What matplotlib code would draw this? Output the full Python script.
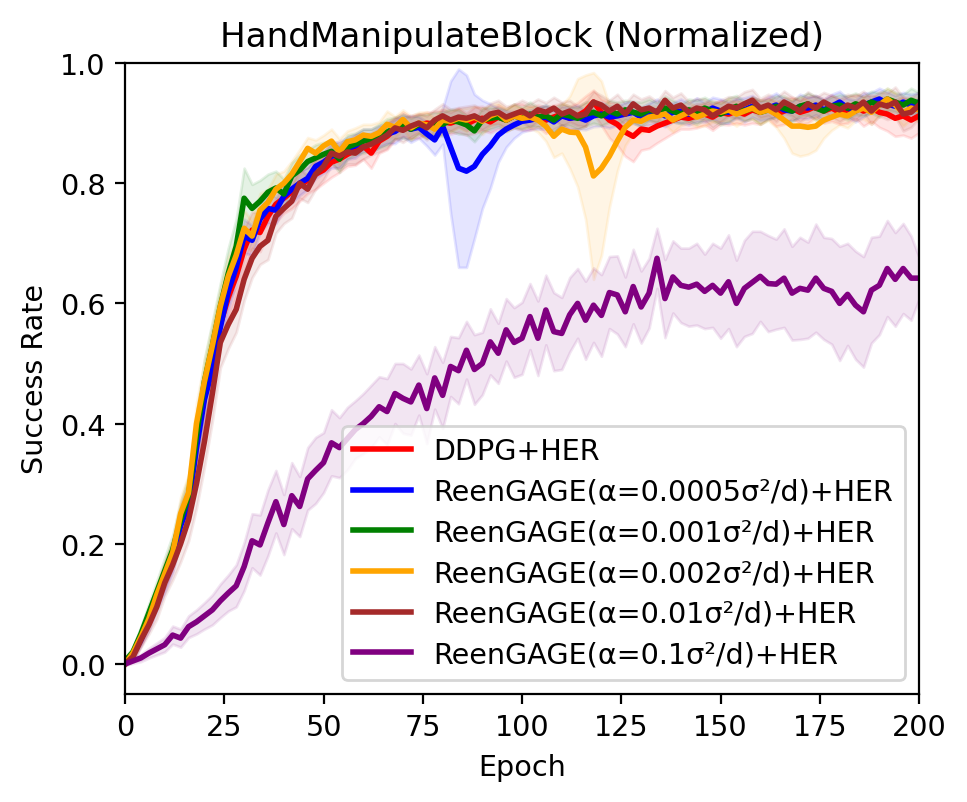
import numpy as np
import matplotlib
matplotlib.use("Agg")
import matplotlib.pyplot as plt

epochs = list(range(0, 201, 2))

labels = ["DDPG+HER",
          "ReenGAGE(α=0.0005σ²/d)+HER",
          "ReenGAGE(α=0.001σ²/d)+HER",
          "ReenGAGE(α=0.002σ²/d)+HER",
          "ReenGAGE(α=0.01σ²/d)+HER",
          "ReenGAGE(α=0.1σ²/d)+HER"]
colors = ["red", "blue", "green", "orange", "brown", "purple"]

red_mean = [0.000, 0.015, 0.042, 0.072, 0.110, 0.145, 0.180, 0.235, 0.270, 0.370, 0.445,
            0.500, 0.565, 0.610, 0.645, 0.690, 0.722, 0.718, 0.745, 0.765, 0.775,
            0.786, 0.795, 0.805, 0.815, 0.822, 0.835, 0.840, 0.848, 0.855, 0.862,
            0.850, 0.870, 0.878, 0.890, 0.898, 0.892, 0.895, 0.900, 0.898, 0.902,
            0.900, 0.905, 0.898, 0.905, 0.908, 0.902, 0.910, 0.905, 0.912, 0.910,
            0.908, 0.912, 0.905, 0.910, 0.915, 0.908, 0.912, 0.920, 0.935, 0.918,
            0.905, 0.898, 0.885, 0.878, 0.890, 0.888, 0.895, 0.900, 0.905, 0.910,
            0.908, 0.912, 0.915, 0.910, 0.918, 0.915, 0.920, 0.915, 0.922, 0.918,
            0.925, 0.915, 0.920, 0.925, 0.918, 0.922, 0.928, 0.920, 0.925, 0.918,
            0.922, 0.928, 0.920, 0.925, 0.918, 0.915, 0.908, 0.912, 0.905, 0.912]
red_std = [0.003, 0.008, 0.012, 0.015, 0.018, 0.022, 0.025, 0.030, 0.032, 0.035, 0.035,
           0.035, 0.038, 0.035, 0.032, 0.035, 0.030, 0.032, 0.028, 0.030, 0.025,
           0.028, 0.025, 0.022, 0.025, 0.022, 0.025, 0.022, 0.020, 0.025, 0.022,
           0.025, 0.020, 0.022, 0.018, 0.020, 0.018, 0.020, 0.018, 0.022, 0.020,
           0.018, 0.020, 0.018, 0.022, 0.020, 0.018, 0.020, 0.018, 0.020, 0.022,
           0.020, 0.018, 0.022, 0.020, 0.018, 0.020, 0.022, 0.025, 0.020, 0.022,
           0.030, 0.035, 0.040, 0.042, 0.035, 0.030, 0.028, 0.025, 0.022, 0.020,
           0.018, 0.020, 0.018, 0.022, 0.020, 0.018, 0.020, 0.018, 0.022, 0.020,
           0.018, 0.020, 0.022, 0.018, 0.020, 0.022, 0.018, 0.020, 0.022, 0.020,
           0.022, 0.020, 0.025, 0.022, 0.025, 0.028, 0.030, 0.032, 0.030, 0.028]

blue_mean = [0.000, 0.015, 0.040, 0.070, 0.105, 0.140, 0.175, 0.230, 0.265, 0.360, 0.440,
             0.490, 0.560, 0.620, 0.660, 0.712, 0.705, 0.740, 0.758, 0.755, 0.778,
             0.790, 0.800, 0.808, 0.828, 0.835, 0.845, 0.848, 0.858, 0.862, 0.872,
             0.870, 0.878, 0.882, 0.886, 0.895, 0.890, 0.893, 0.882, 0.872, 0.895,
             0.860, 0.825, 0.820, 0.828, 0.848, 0.862, 0.880, 0.890, 0.897, 0.903,
             0.905, 0.908, 0.910, 0.902, 0.912, 0.908, 0.910, 0.905, 0.912, 0.915,
             0.910, 0.912, 0.915, 0.918, 0.910, 0.915, 0.920, 0.912, 0.918, 0.920,
             0.915, 0.922, 0.918, 0.925, 0.920, 0.918, 0.925, 0.922, 0.928, 0.920,
             0.925, 0.930, 0.922, 0.920, 0.928, 0.925, 0.930, 0.922, 0.928, 0.935,
             0.925, 0.920, 0.930, 0.935, 0.940, 0.932, 0.928, 0.935, 0.930, 0.935]
blue_std = [0.003, 0.008, 0.010, 0.014, 0.016, 0.020, 0.022, 0.025, 0.028, 0.030, 0.032,
            0.030, 0.028, 0.030, 0.025, 0.028, 0.025, 0.022, 0.025, 0.022, 0.020,
            0.022, 0.020, 0.018, 0.020, 0.018, 0.020, 0.022, 0.018, 0.020, 0.018,
            0.020, 0.018, 0.016, 0.020, 0.018, 0.022, 0.018, 0.020, 0.025, 0.030,
            0.110, 0.165, 0.160, 0.120, 0.090, 0.070, 0.045, 0.030, 0.022, 0.018,
            0.016, 0.018, 0.020, 0.018, 0.016, 0.018, 0.020, 0.016, 0.018, 0.020,
            0.018, 0.016, 0.020, 0.018, 0.016, 0.018, 0.020, 0.018, 0.016, 0.020,
            0.018, 0.020, 0.016, 0.018, 0.020, 0.018, 0.016, 0.020, 0.018, 0.016,
            0.018, 0.020, 0.018, 0.016, 0.020, 0.018, 0.016, 0.018, 0.020, 0.018,
            0.016, 0.018, 0.020, 0.016, 0.018, 0.020, 0.018, 0.016, 0.018, 0.016]

green_mean = [0.005, 0.020, 0.050, 0.085, 0.120, 0.155, 0.190, 0.240, 0.280, 0.380, 0.470,
              0.530, 0.595, 0.650, 0.695, 0.775, 0.758, 0.770, 0.785, 0.792, 0.782,
              0.812, 0.822, 0.836, 0.842, 0.848, 0.853, 0.840, 0.860, 0.865, 0.870,
              0.872, 0.878, 0.885, 0.892, 0.895, 0.890, 0.898, 0.895, 0.900, 0.898,
              0.905, 0.902, 0.897, 0.887, 0.905, 0.908, 0.910, 0.905, 0.912, 0.908,
              0.915, 0.910, 0.912, 0.905, 0.915, 0.912, 0.908, 0.915, 0.918, 0.912,
              0.920, 0.915, 0.922, 0.918, 0.915, 0.922, 0.918, 0.925, 0.920, 0.915,
              0.922, 0.918, 0.925, 0.920, 0.915, 0.922, 0.928, 0.920, 0.925, 0.918,
              0.922, 0.928, 0.925, 0.920, 0.928, 0.932, 0.925, 0.920, 0.928, 0.930,
              0.925, 0.932, 0.928, 0.935, 0.930, 0.940, 0.935, 0.930, 0.938, 0.933]
green_std = [0.004, 0.008, 0.012, 0.015, 0.018, 0.022, 0.025, 0.030, 0.032, 0.035, 0.038,
             0.040, 0.038, 0.042, 0.045, 0.050, 0.040, 0.035, 0.030, 0.028, 0.025,
             0.022, 0.025, 0.020, 0.022, 0.020, 0.018, 0.022, 0.020, 0.018, 0.020,
             0.018, 0.020, 0.022, 0.018, 0.020, 0.018, 0.016, 0.020, 0.018, 0.020,
             0.018, 0.020, 0.016, 0.018, 0.020, 0.018, 0.016, 0.018, 0.020, 0.018,
             0.020, 0.016, 0.018, 0.020, 0.018, 0.016, 0.018, 0.020, 0.018, 0.016,
             0.018, 0.020, 0.016, 0.018, 0.020, 0.018, 0.016, 0.020, 0.018, 0.016,
             0.018, 0.020, 0.018, 0.016, 0.018, 0.020, 0.018, 0.016, 0.018, 0.020,
             0.016, 0.018, 0.020, 0.018, 0.016, 0.018, 0.020, 0.018, 0.016, 0.018,
             0.020, 0.018, 0.016, 0.018, 0.020, 0.018, 0.016, 0.018, 0.020, 0.018]

orange_mean = [0.000, 0.018, 0.045, 0.075, 0.115, 0.150, 0.185, 0.250, 0.285, 0.400, 0.470,
               0.530, 0.595, 0.645, 0.680, 0.725, 0.712, 0.755, 0.768, 0.790, 0.800,
               0.815, 0.836, 0.858, 0.850, 0.862, 0.870, 0.852, 0.869, 0.872, 0.880,
               0.878, 0.884, 0.898, 0.893, 0.906, 0.892, 0.900, 0.897, 0.890, 0.905,
               0.903, 0.908, 0.905, 0.910, 0.903, 0.912, 0.917, 0.905, 0.912, 0.908,
               0.910, 0.905, 0.895, 0.878, 0.890, 0.885, 0.884, 0.860, 0.812, 0.825,
               0.845, 0.870, 0.893, 0.905, 0.903, 0.910, 0.912, 0.915, 0.905, 0.912,
               0.918, 0.910, 0.915, 0.920, 0.918, 0.922, 0.915, 0.920, 0.925, 0.918,
               0.922, 0.915, 0.905, 0.895, 0.895, 0.893, 0.895, 0.905, 0.910, 0.915,
               0.912, 0.920, 0.925, 0.918, 0.930, 0.940, 0.930, 0.917, 0.925, 0.922]
orange_std = [0.003, 0.008, 0.012, 0.015, 0.018, 0.020, 0.022, 0.028, 0.030, 0.035, 0.035,
              0.035, 0.030, 0.032, 0.028, 0.030, 0.025, 0.028, 0.022, 0.025, 0.020,
              0.022, 0.020, 0.018, 0.022, 0.018, 0.020, 0.022, 0.018, 0.020, 0.018,
              0.020, 0.018, 0.022, 0.018, 0.016, 0.020, 0.018, 0.022, 0.018, 0.020,
              0.018, 0.016, 0.020, 0.018, 0.022, 0.018, 0.016, 0.020, 0.018, 0.016,
              0.018, 0.020, 0.025, 0.035, 0.040, 0.060, 0.090, 0.120, 0.172, 0.145,
              0.085, 0.050, 0.030, 0.022, 0.020, 0.018, 0.016, 0.018, 0.020, 0.016,
              0.018, 0.016, 0.020, 0.018, 0.016, 0.018, 0.020, 0.016, 0.018, 0.020,
              0.018, 0.022, 0.030, 0.045, 0.050, 0.045, 0.040, 0.030, 0.022, 0.018,
              0.020, 0.016, 0.018, 0.020, 0.016, 0.018, 0.020, 0.022, 0.018, 0.020]

brown_mean = [0.000, 0.012, 0.040, 0.065, 0.095, 0.135, 0.165, 0.200, 0.240, 0.300, 0.370,
              0.450, 0.535, 0.565, 0.590, 0.640, 0.675, 0.695, 0.705, 0.745, 0.758,
              0.770, 0.800, 0.790, 0.815, 0.828, 0.850, 0.845, 0.852, 0.850, 0.860,
              0.865, 0.872, 0.880, 0.892, 0.888, 0.895, 0.900, 0.892, 0.905, 0.912,
              0.905, 0.910, 0.908, 0.912, 0.905, 0.915, 0.918, 0.910, 0.915, 0.920,
              0.912, 0.922, 0.918, 0.925, 0.915, 0.920, 0.912, 0.915, 0.935, 0.930,
              0.920, 0.928, 0.915, 0.932, 0.922, 0.925, 0.918, 0.938, 0.925, 0.930,
              0.918, 0.925, 0.922, 0.912, 0.920, 0.928, 0.925, 0.932, 0.938, 0.925,
              0.930, 0.922, 0.935, 0.928, 0.920, 0.932, 0.925, 0.935, 0.928, 0.922,
              0.930, 0.925, 0.935, 0.920, 0.932, 0.928, 0.935, 0.915, 0.918, 0.930]
brown_std = [0.003, 0.008, 0.012, 0.015, 0.020, 0.022, 0.025, 0.030, 0.035, 0.040, 0.042,
             0.045, 0.042, 0.040, 0.038, 0.035, 0.032, 0.030, 0.032, 0.028, 0.025,
             0.028, 0.025, 0.022, 0.025, 0.022, 0.020, 0.022, 0.020, 0.018, 0.020,
             0.018, 0.020, 0.022, 0.018, 0.020, 0.018, 0.016, 0.020, 0.018, 0.020,
             0.018, 0.016, 0.020, 0.018, 0.016, 0.018, 0.020, 0.018, 0.016, 0.018,
             0.020, 0.018, 0.016, 0.018, 0.020, 0.018, 0.016, 0.020, 0.018, 0.016,
             0.018, 0.020, 0.018, 0.016, 0.018, 0.020, 0.018, 0.016, 0.018, 0.020,
             0.018, 0.016, 0.018, 0.020, 0.018, 0.016, 0.018, 0.020, 0.018, 0.016,
             0.018, 0.020, 0.018, 0.016, 0.018, 0.020, 0.018, 0.016, 0.018, 0.020,
             0.018, 0.020, 0.018, 0.022, 0.020, 0.022, 0.025, 0.028, 0.025, 0.022]

purple_mean = [0.000, 0.005, 0.010, 0.018, 0.025, 0.032, 0.048, 0.043, 0.062, 0.070, 0.080,
               0.090, 0.105, 0.118, 0.130, 0.162, 0.205, 0.198, 0.235, 0.270, 0.232,
               0.280, 0.262, 0.308, 0.322, 0.335, 0.368, 0.360, 0.375, 0.390, 0.400,
               0.412, 0.428, 0.420, 0.450, 0.442, 0.436, 0.464, 0.425, 0.476, 0.447,
               0.495, 0.488, 0.522, 0.490, 0.500, 0.536, 0.517, 0.556, 0.535, 0.542,
               0.578, 0.542, 0.589, 0.553, 0.550, 0.581, 0.600, 0.572, 0.597, 0.580,
               0.618, 0.614, 0.586, 0.628, 0.594, 0.617, 0.675, 0.608, 0.644, 0.630,
               0.627, 0.632, 0.620, 0.630, 0.617, 0.636, 0.600, 0.625, 0.635, 0.645,
               0.633, 0.632, 0.642, 0.617, 0.625, 0.622, 0.642, 0.625, 0.620, 0.600,
               0.615, 0.597, 0.586, 0.622, 0.630, 0.658, 0.640, 0.658, 0.642, 0.642]
purple_std = [0.002, 0.004, 0.006, 0.008, 0.010, 0.012, 0.015, 0.015, 0.018, 0.020, 0.022,
              0.025, 0.028, 0.030, 0.035, 0.040, 0.045, 0.050, 0.055, 0.052, 0.050,
              0.055, 0.050, 0.052, 0.055, 0.050, 0.055, 0.050, 0.052, 0.048, 0.050,
              0.052, 0.050, 0.055, 0.050, 0.058, 0.055, 0.050, 0.058, 0.052, 0.055,
              0.050, 0.055, 0.048, 0.058, 0.052, 0.055, 0.050, 0.052, 0.058, 0.060,
              0.055, 0.062, 0.058, 0.065, 0.060, 0.062, 0.058, 0.065, 0.062, 0.068,
              0.060, 0.065, 0.058, 0.062, 0.060, 0.058, 0.050, 0.065, 0.060, 0.062,
              0.065, 0.068, 0.062, 0.070, 0.075, 0.078, 0.072, 0.080, 0.085, 0.075,
              0.080, 0.075, 0.082, 0.078, 0.085, 0.080, 0.090, 0.085, 0.088, 0.095,
              0.085, 0.090, 0.092, 0.088, 0.082, 0.080, 0.078, 0.075, 0.070, 0.035]

means = [red_mean, blue_mean, green_mean, orange_mean, brown_mean, purple_mean]
stds = [red_std, blue_std, green_std, orange_std, brown_std, purple_std]

plt.rcParams['font.size'] = 10.3

fig = plt.figure(figsize=(4.835, 4.015), dpi=200)
ax = fig.add_axes([0.1293, 0.1345, 0.8211, 0.7858])

x = np.array(epochs)
for m, s, c, lab in zip(means, stds, colors, labels):
    m = np.array(m)
    s = np.array(s)
    ax.plot(x, m, color=c, lw=2.0, label=lab)
    ax.fill_between(x, m - s, m + s, color=c, alpha=0.1)

ax.set_xlim(0, 200)
ax.set_ylim(-0.05, 1.0)
ax.set_xticks([0, 25, 50, 75, 100, 125, 150, 175, 200])
ax.set_yticks([0.0, 0.2, 0.4, 0.6, 0.8, 1.0])
ax.set_xlabel("Epoch")
ax.set_ylabel("Success Rate")
ax.set_title("HandManipulateBlock (Normalized)", fontsize=12.3)
ax.legend(loc="lower right", labelspacing=0.44)

fig.savefig("out.png", dpi=200)
